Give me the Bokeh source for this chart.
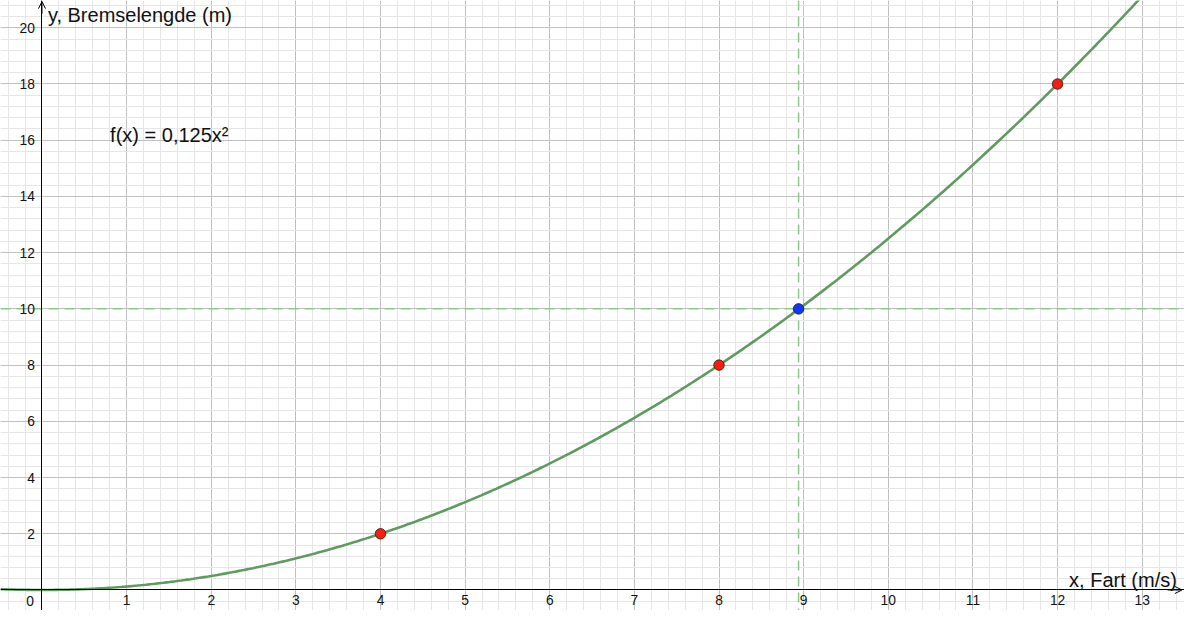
import numpy as np
from bokeh.plotting import figure
from bokeh.models import (Range1d, FixedTicker, SingleIntervalTicker, Span, Label,
                          Arrow, OpenHead)
from bokeh.embed import file_html
from bokeh.resources import INLINE

# ---- data ----
coef = 0.125                      # f(x) = 0,125x²
red_x = [4, 8, 12]
red_y = [2, 8, 18]
blue_x = [8.94]
blue_y = [10]
x_ticks = [1, 2, 3, 4, 5, 6, 7, 8, 9, 10, 11, 12, 13]
y_ticks = [2, 4, 6, 8, 10, 12, 14, 16, 18, 20]
x_min, x_max = -0.49, 13.50
y_min, y_max = -0.73, 20.97

FONT = "Liberation Sans"
TXT = "#111111"

p = figure(width=1184, height=610, output_backend="svg", toolbar_location=None,
           x_range=Range1d(x_min, x_max), y_range=Range1d(y_min, y_max),
           min_border=0, min_border_left=0, min_border_right=0,
           min_border_top=0, min_border_bottom=0)
p.outline_line_color = None
p.background_fill_color = "white"

# grid
for g, step in ((p.xgrid, 1), (p.ygrid, 2)):
    g.ticker = SingleIntervalTicker(interval=step, num_minor_ticks=5)
    g.grid_line_color = "#c0c0c0"
    g.grid_line_width = 1
    g.minor_grid_line_color = "#e6e6e6"
    g.minor_grid_line_width = 1

# axes through origin
for ax in (p.xaxis, p.yaxis):
    ax.fixed_location = 0
    ax.axis_line_color = "black"
    ax.axis_line_width = 1
    ax.major_tick_out = 0
    ax.major_tick_in = 0
    ax.minor_tick_out = 0
    ax.minor_tick_in = 0
    ax.major_label_text_font = FONT
    ax.major_label_text_font_size = "13.8px"
    ax.major_label_text_color = TXT
p.xaxis.ticker = FixedTicker(ticks=x_ticks)
p.yaxis.ticker = FixedTicker(ticks=y_ticks)
p.xaxis.major_label_standoff = 5
p.yaxis.major_label_standoff = 7

# dashed guide lines
p.add_layout(Span(location=blue_y[0], dimension="width", line_color="#8cc88c",
                  line_width=1.5, line_dash="10 6", level="underlay"))
p.add_layout(Span(location=blue_x[0], dimension="height", line_color="#8cc88c",
                  line_width=1.5, line_dash="10 6", level="underlay"))

# curve
xs = np.linspace(x_min, x_max, 400)
p.line(xs, coef * xs ** 2, line_color="#5f9b5f", line_width=2.6)

# points
p.scatter(red_x, red_y, size=10.5, fill_color="#f41f0f", line_color="#3a1010", line_width=0.8)
p.scatter(blue_x, blue_y, size=10.5, fill_color="#1535f5", line_color="#101040", line_width=0.8)

# arrows on axes
p.add_layout(Arrow(x_start=0, y_start=20.5, x_end=0, y_end=20.93,
                   end=OpenHead(size=7, line_color="black", line_width=1),
                   line_color="black", line_width=1))
p.add_layout(Arrow(x_start=13.3, y_start=0, x_end=13.47, y_end=0,
                   end=OpenHead(size=7, line_color="black", line_width=1),
                   line_color="black", line_width=1))

# texts
p.add_layout(Label(x=0, y=0, text="0", x_offset=-8, y_offset=-6,
                   text_align="right", text_baseline="top",
                   text_font=FONT, text_font_size="13.8px", text_color=TXT))
p.add_layout(Label(x=0.07, y=20.45, text="y, Bremselengde (m)",
                   text_align="left", text_baseline="middle",
                   text_font=FONT, text_font_size="20px", text_color=TXT))
p.add_layout(Label(x=13.41, y=0.37, text="x, Fart (m/s)",
                   text_align="right", text_baseline="middle",
                   text_font=FONT, text_font_size="20px", text_color=TXT))
p.add_layout(Label(x=0.805, y=16.19, text="f(x) = 0,125x²",
                   text_align="left", text_baseline="middle",
                   text_font=FONT, text_font_size="20px", text_color=TXT))

open("out.html", "w").write(file_html(p, INLINE))
